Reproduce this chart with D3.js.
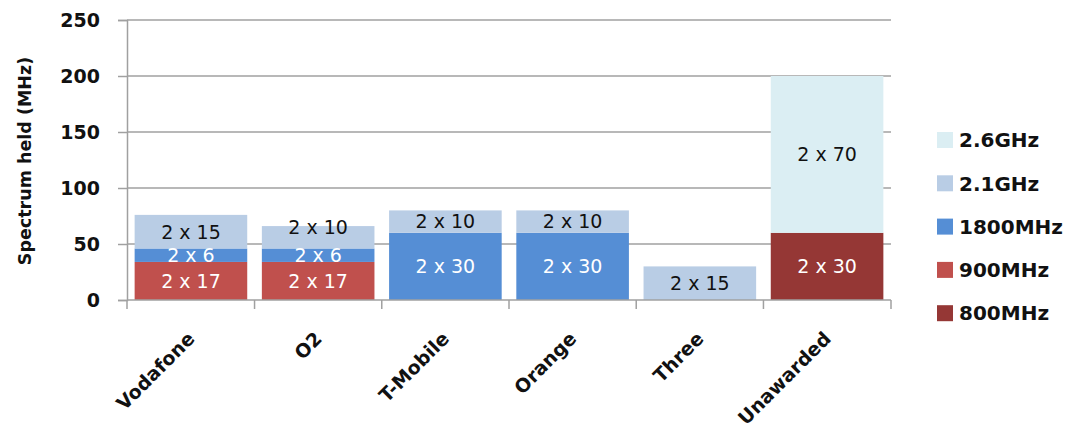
<!DOCTYPE html>
<html lang="en">
<head>
<meta charset="UTF-8">
<title>Spectrum held by operator</title>
<script src="https://d3js.org/d3.v7.min.js"></script>
<style>
    body { margin: 0; background: #fff; }
    text { font-family: "DejaVu Sans", sans-serif; }
</style>
</head>
<body>
<div id="chart"></div>
<script>
    // operators and the paired allocations (2 x N MHz) for each band
    const categories = ["Vodafone", "O2", "T-Mobile", "Orange", "Three", "Unawarded"];
    const bands = ["800MHz", "900MHz", "1800MHz", "2.1GHz", "2.6GHz"];
    const pairs800  = [0, 0, 0, 0, 0, 30];
    const pairs900  = [17, 17, 0, 0, 0, 0];
    const pairs1800 = [6, 6, 30, 30, 0, 0];
    const pairs2100 = [15, 10, 10, 10, 15, 0];
    const pairs2600 = [0, 0, 0, 0, 0, 70];
    const yTicks = [0, 50, 100, 150, 200, 250];
    const colors = ["#953735", "#c0504d", "#558ed5", "#b9cde5", "#dbeef3"];
    const labelColors = ["#fff", "#fff", "#fff", "#111", "#111"];

    const allPairs = [pairs800, pairs900, pairs1800, pairs2100, pairs2600];

    const rows = categories.map((c, i) => {
        const r = {cat: c};
        bands.forEach((b, j) => r[b] = 2 * allPairs[j][i]);
        return r;
    });

    const W = 1069, H = 430;
    const margin = {top: 20, right: 178, bottom: 130, left: 127};
    const width = W - margin.left - margin.right,
        height = H - margin.top - margin.bottom;
    const labelSize = 19;

    const svg = d3.select("#chart").append("svg")
        .attr("width", W).attr("height", H);
    const g = svg.append("g")
        .attr("transform", `translate(${margin.left},${margin.top})`);

    const x = d3.scaleBand().domain(categories).range([0, width]).paddingInner(0.115).paddingOuter(0.06);
    const y = d3.scaleLinear().domain([0, 250]).range([height, 0]);

    // gridlines
    g.append("g").selectAll("line").data(yTicks.slice(1)).join("line")
        .attr("x1", 0).attr("x2", width)
        .attr("y1", d => y(d)).attr("y2", d => y(d))
        .attr("stroke", "#a0a0a0").attr("stroke-width", 1.5);

    const stack = d3.stack().keys(bands)(rows);

    const layer = g.selectAll("g.layer").data(stack).join("g")
        .attr("class", "layer")
        .attr("fill", (d, i) => colors[i]);

    layer.selectAll("rect").data(d => d).join("rect")
        .attr("x", d => x(d.data.cat))
        .attr("width", x.bandwidth())
        .attr("y", d => y(d[1]))
        .attr("height", d => y(d[0]) - y(d[1]));

    // segment labels; push a label up when it sits too close to the one below it
    const labels = [];
    categories.forEach((c, ci) => {
        let prevY = null;
        stack.forEach((s, si) => {
            const v = s[ci];
            if (v[1] - v[0] <= 0) return;
            let ly = (y(v[0]) + y(v[1])) / 2;
            if (prevY !== null && prevY - ly < labelSize) ly = prevY - 28;
            labels.push({cat: c, si, ly, val: (v[1] - v[0]) / 2});
            prevY = ly;
        });
    });

    g.append("g").selectAll("text").data(labels).join("text")
        .attr("x", d => x(d.cat) + x.bandwidth() / 2)
        .attr("y", d => d.ly)
        .attr("dy", "0.36em")
        .attr("text-anchor", "middle")
        .attr("font-size", labelSize)
        .attr("fill", d => labelColors[d.si])
        .text(d => "2 x " + d.val);

    // y axis
    const yAxis = g.append("g")
        .call(d3.axisLeft(y).tickValues(yTicks).tickSize(9).tickPadding(18));
    yAxis.select(".domain").attr("stroke", "#a0a0a0").attr("stroke-width", 1.5);
    yAxis.selectAll(".tick line").attr("stroke", "#a0a0a0").attr("stroke-width", 1.5);
    yAxis.selectAll(".tick text").attr("font-size", 19).attr("font-weight", "bold").attr("fill", "#111");

    // x axis
    const xAxis = g.append("g").attr("transform", `translate(0,${height})`);
    xAxis.append("line").attr("x1", 0).attr("x2", width)
        .attr("stroke", "#a0a0a0").attr("stroke-width", 1.5);
    const bounds = categories.map(c => x(c) - x.step() * x.paddingInner() / 2).concat([width]);
    bounds[0] = 0;
    xAxis.selectAll("line.tk").data(bounds).join("line")
        .attr("class", "tk")
        .attr("x1", d => d).attr("x2", d => d)
        .attr("y1", 0).attr("y2", 9)
        .attr("stroke", "#a0a0a0").attr("stroke-width", 1.5);
    xAxis.selectAll("text").data(categories).join("text")
        .attr("transform", d => `translate(${x(d) + x.bandwidth() / 2 + 5},${40}) rotate(-45)`)
        .attr("text-anchor", "end")
        .attr("font-size", 19).attr("font-weight", "bold").attr("fill", "#111")
        .text(d => d);

    // axis title
    svg.append("text")
        .attr("transform", `translate(25,161) rotate(-90)`)
        .attr("text-anchor", "middle")
        .attr("dy", "0.35em")
        .attr("font-size", 17.5).attr("font-weight", "bold").attr("fill", "#111")
        .text("Spectrum held (MHz)");

    // legend, top entry is the top of the stack
    const legend = svg.append("g").attr("transform", "translate(937,132)");
    const order = bands.map((b, i) => i).reverse();
    const item = legend.selectAll("g").data(order).join("g")
        .attr("transform", (d, k) => `translate(0,${k * 43.3})`);
    item.append("rect").attr("width", 16).attr("height", 16).attr("fill", d => colors[d]);
    item.append("text").attr("x", 22).attr("y", 8).attr("dy", "0.36em")
        .attr("font-size", 20).attr("font-weight", "bold").attr("fill", "#111")
        .text(d => bands[d]);
</script>
</body>
</html>
